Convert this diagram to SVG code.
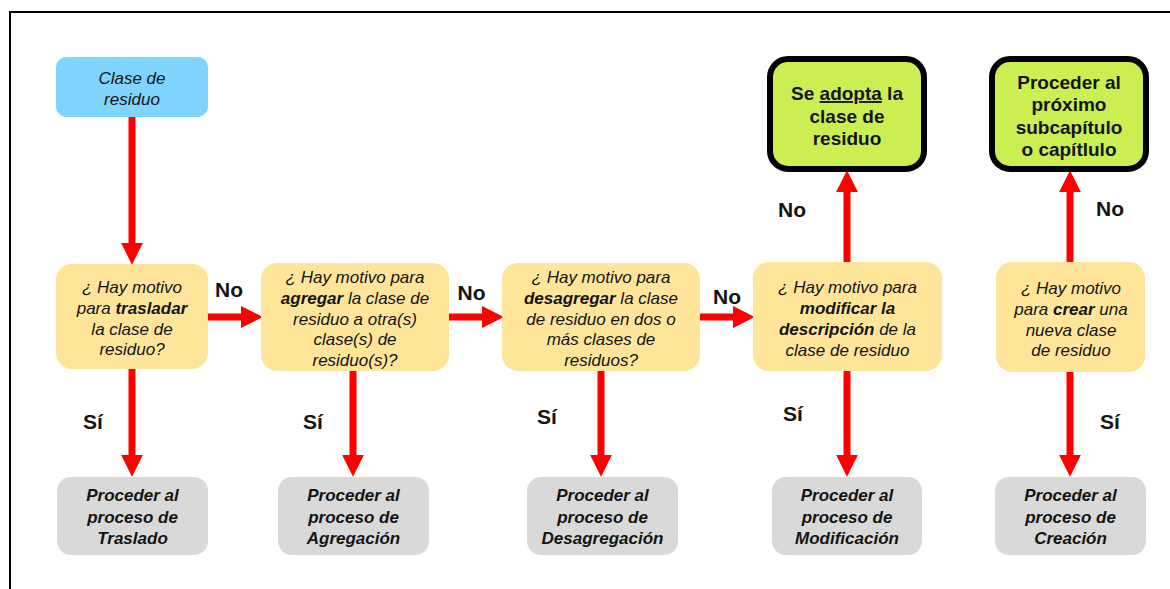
<svg xmlns="http://www.w3.org/2000/svg" width="1170" height="589" viewBox="0 0 1170 589">
<defs>
<style>
.t{font-family:"Liberation Sans",Arial,sans-serif;fill:#141414;text-anchor:middle}
.q{font-size:17px;font-style:italic}
.g{font-size:17px;font-style:italic;font-weight:bold}
.v{font-size:19px;font-weight:bold}
.lb{font-size:21px;font-weight:bold}
.b{font-weight:bold}
.yel{fill:#ffe599}
.gry{fill:#d9d9d9}
.grn{fill:#cbef52;stroke:#000;stroke-width:6}
.arr{stroke:#ff0000;stroke-width:7;fill:none;marker-end:url(#ah)}
</style>
<marker id="ah" markerUnits="userSpaceOnUse" markerWidth="22" markerHeight="22" viewBox="0 0 20 20" refX="2" refY="10" orient="auto">
<path d="M0,0 L20,10 L0,20 z" fill="#ff0000"/>
</marker>
</defs>
<rect x="0" y="0" width="1170" height="589" fill="#fff"/>
<path d="M10,600 L10,12 L1180,12" fill="none" stroke="#000" stroke-width="2"/>

<g id="connectors">
<line class="arr" x1="132" y1="117" x2="132" y2="245"/>
<line class="arr" x1="208" y1="317" x2="243" y2="317"/>
<line class="arr" x1="449" y1="317" x2="484" y2="317"/>
<line class="arr" x1="700" y1="317" x2="735" y2="317"/>
<line class="arr" x1="847" y1="263" x2="847" y2="190"/>
<line class="arr" x1="1070" y1="263" x2="1070" y2="190"/>
<line class="arr" x1="132" y1="369" x2="132" y2="457"/>
<line class="arr" x1="353" y1="371" x2="353" y2="457"/>
<line class="arr" x1="601" y1="371" x2="601" y2="457"/>
<line class="arr" x1="847" y1="371" x2="847" y2="457"/>
<line class="arr" x1="1070" y1="372" x2="1070" y2="457"/>
<text class="t lb" x="229" y="296.5">No</text>
<text class="t lb" x="471.5" y="299.5">No</text>
<text class="t lb" x="727" y="303.5">No</text>
<text class="t lb" x="792" y="216.5">No</text>
<text class="t lb" x="1110" y="215.5">No</text>
<text class="t lb" x="93" y="429">Sí</text>
<text class="t lb" x="313" y="429">Sí</text>
<text class="t lb" x="547" y="424">Sí</text>
<text class="t lb" x="793" y="420.5">Sí</text>
<text class="t lb" x="1110" y="428.5">Sí</text>
</g>

<g id="start">
<rect x="56" y="57" width="152" height="60" rx="10" fill="#80d4fe"/>
<text class="t q" x="132" y="84">Clase de</text>
<text class="t q" x="132" y="105">residuo</text>
</g>

<g id="q1">
<rect class="yel" x="56" y="264" width="152" height="105" rx="16"/>
<text class="t q" x="132" y="292.5">¿ Hay motivo</text>
<text class="t q" x="132" y="313.5">para <tspan class="b">trasladar</tspan></text>
<text class="t q" x="132" y="334.5">la clase de</text>
<text class="t q" x="132" y="355">residuo?</text>
</g>

<g id="q2">
<rect class="yel" x="261" y="263" width="188" height="108" rx="16"/>
<text class="t q" x="355" y="282.5">¿ Hay motivo para</text>
<text class="t q" x="355" y="303.5"><tspan class="b">agregar</tspan> la clase de</text>
<text class="t q" x="355" y="324.5">residuo a otra(s)</text>
<text class="t q" x="355" y="345">clase(s) de</text>
<text class="t q" x="355" y="365.5">residuo(s)?</text>
</g>

<g id="q3">
<rect class="yel" x="502" y="263" width="198" height="108" rx="16"/>
<text class="t q" x="601" y="282.5">¿ Hay motivo para</text>
<text class="t q" x="601" y="303.5"><tspan class="b">desagregar</tspan> la clase</text>
<text class="t q" x="601" y="324.5">de residuo en dos o</text>
<text class="t q" x="601" y="345">más clases de</text>
<text class="t q" x="601" y="365.5">residuos?</text>
</g>

<g id="q4">
<rect class="yel" x="753" y="262" width="189" height="109" rx="16"/>
<text class="t q" x="847.5" y="292.5">¿ Hay motivo para</text>
<text class="t q b" x="847.5" y="313.5">modificar la</text>
<text class="t q" x="847.5" y="334.5"><tspan class="b">descripción</tspan> de la</text>
<text class="t q" x="847.5" y="355.5">clase de residuo</text>
</g>

<g id="q5">
<rect class="yel" x="996" y="262" width="149" height="110" rx="16"/>
<text class="t q" x="1071" y="294">¿ Hay motivo</text>
<text class="t q" x="1071" y="315">para <tspan class="b">crear</tspan> una</text>
<text class="t q" x="1071" y="336">nueva clase</text>
<text class="t q" x="1071" y="356">de residuo</text>
</g>

<g id="adopt">
<rect class="grn" x="770" y="59" width="154" height="110" rx="18"/>
<text class="t v" x="847" y="100">Se <tspan text-decoration="underline">adopta</tspan> la</text>
<text class="t v" x="847" y="122.5">clase de</text>
<text class="t v" x="847" y="145">residuo</text>
</g>

<g id="next">
<rect class="grn" x="992" y="59" width="154" height="110" rx="18"/>
<text class="t v" x="1069" y="88.5">Proceder al</text>
<text class="t v" x="1069" y="111">próximo</text>
<text class="t v" x="1069" y="133.5">subcapítulo</text>
<text class="t v" x="1069" y="156">o capítlulo</text>
</g>

<g id="p1">
<rect class="gry" x="57" y="477" width="151" height="78" rx="14"/>
<text class="t g" x="132.5" y="501">Proceder al</text>
<text class="t g" x="132.5" y="522.5">proceso de</text>
<text class="t g" x="132.5" y="543.5">Traslado</text>
</g>

<g id="p2">
<rect class="gry" x="278" y="477" width="151" height="78" rx="14"/>
<text class="t g" x="353.5" y="501">Proceder al</text>
<text class="t g" x="353.5" y="522.5">proceso de</text>
<text class="t g" x="353.5" y="543.5">Agregación</text>
</g>

<g id="p3">
<rect class="gry" x="527" y="477" width="151" height="78" rx="14"/>
<text class="t g" x="602.5" y="501">Proceder al</text>
<text class="t g" x="602.5" y="522.5">proceso de</text>
<text class="t g" x="602.5" y="543.5">Desagregación</text>
</g>

<g id="p4">
<rect class="gry" x="772" y="477" width="150" height="78" rx="14"/>
<text class="t g" x="847" y="501">Proceder al</text>
<text class="t g" x="847" y="522.5">proceso de</text>
<text class="t g" x="847" y="543.5">Modificación</text>
</g>

<g id="p5">
<rect class="gry" x="995" y="477" width="151" height="78" rx="14"/>
<text class="t g" x="1070.5" y="501">Proceder al</text>
<text class="t g" x="1070.5" y="522.5">proceso de</text>
<text class="t g" x="1070.5" y="543.5">Creación</text>
</g>
</svg>
